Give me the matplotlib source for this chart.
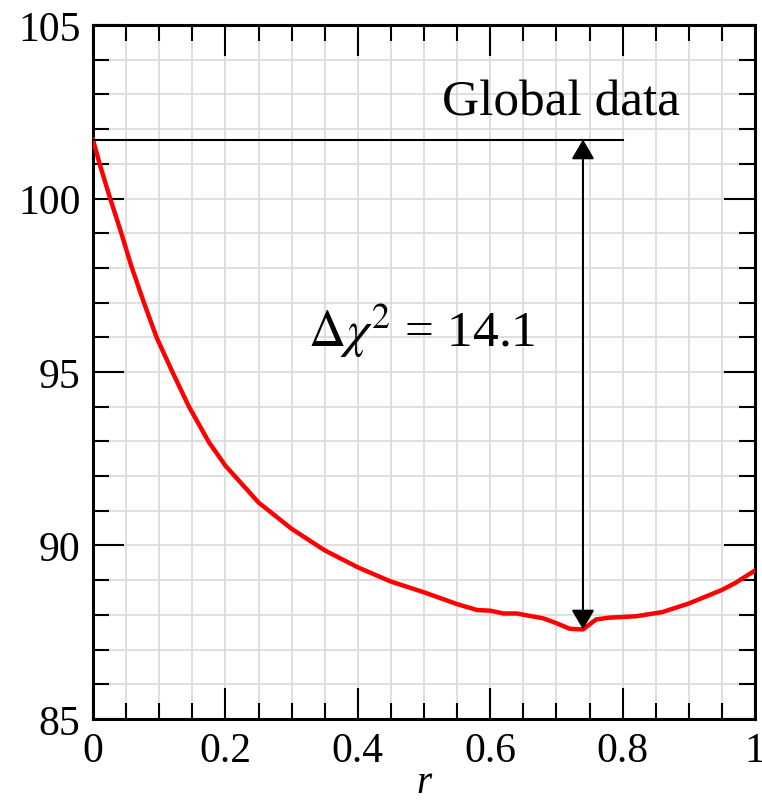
import numpy as np
import matplotlib
matplotlib.use('Agg')
import matplotlib.pyplot as plt
from matplotlib.ticker import MultipleLocator, FixedLocator

plt.rcParams['font.family'] = ['Liberation Serif', 'DejaVu Serif']
plt.rcParams['mathtext.fontset'] = 'stix'

# chi^2 profile vs r
r_vals = [0.0, 0.01, 0.026, 0.042, 0.058, 0.076, 0.096, 0.12, 0.145, 0.175,
          0.2, 0.25, 0.3, 0.35, 0.4, 0.45, 0.5, 0.55, 0.58, 0.60,
          0.62, 0.64, 0.68, 0.70, 0.72, 0.74, 0.76, 0.78, 0.82, 0.86,
          0.90, 0.95, 0.97, 1.0]
chi2_vals = [101.7, 101.0, 100.0, 99.05, 98.05, 97.05, 96.0, 95.0, 94.0, 92.98,
             92.3, 91.24, 90.48, 89.86, 89.37, 88.96, 88.65, 88.31, 88.14, 88.12,
             88.04, 88.04, 87.9, 87.76, 87.6, 87.58, 87.87, 87.92, 87.96, 88.08,
             88.33, 88.72, 88.92, 89.28]

chi2_global = 101.7
chi2_min = 87.58
r_min = 0.74
line_end = 0.8
delta_label = r'$\Delta\chi^2$ = 14.1'

x_ticks = [0, 0.2, 0.4, 0.6, 0.8, 1.0]
x_ticklabels = ['0', '0.2', '0.4', '0.6', '0.8', '1']
y_ticks = [85, 90, 95, 100, 105]

fig = plt.figure(figsize=(7.62, 8.03), dpi=100)
ax = fig.add_axes([0.122, 0.1034, 0.869, 0.8642])

ax.plot(r_vals, chi2_vals, color='red', lw=3.2, zorder=3,
        solid_joinstyle='round')

ax.plot([0, line_end], [chi2_global, chi2_global], color='black', lw=1.5, zorder=4)
ax.annotate('', xy=(r_min, chi2_min), xytext=(r_min, chi2_global),
            arrowprops=dict(arrowstyle='<|-|>,head_length=0.6,head_width=0.35',
                            color='black', lw=1.5, shrinkA=0, shrinkB=0,
                            mutation_scale=20), zorder=5)

ax.text(0.707, 102.43, 'Global data', fontsize=37, ha='center', va='baseline')
ax.text(0.496, 95.76, delta_label, fontsize=37, ha='center', va='baseline')

ax.set_xlim(0, 1)
ax.set_ylim(85, 105)
ax.xaxis.set_major_locator(FixedLocator(x_ticks))
ax.set_xticklabels(x_ticklabels)
ax.xaxis.set_minor_locator(MultipleLocator(0.05))
ax.yaxis.set_major_locator(FixedLocator(y_ticks))
ax.yaxis.set_minor_locator(MultipleLocator(1))

ax.grid(True, which='both', color='#d9d9d9', lw=1.2, zorder=0)
ax.set_axisbelow(True)

ax.tick_params(which='both', direction='in', top=True, right=True,
               width=1.5, labelsize=30, colors='black')
ax.tick_params(which='major', length=22, pad=9)
ax.tick_params(which='minor', length=11.5)
for sp in ax.spines.values():
    sp.set_linewidth(2.2)

ax.set_xlabel('r', fontsize=28, style='italic', labelpad=-4)

fig.savefig('out.png', dpi=100)
